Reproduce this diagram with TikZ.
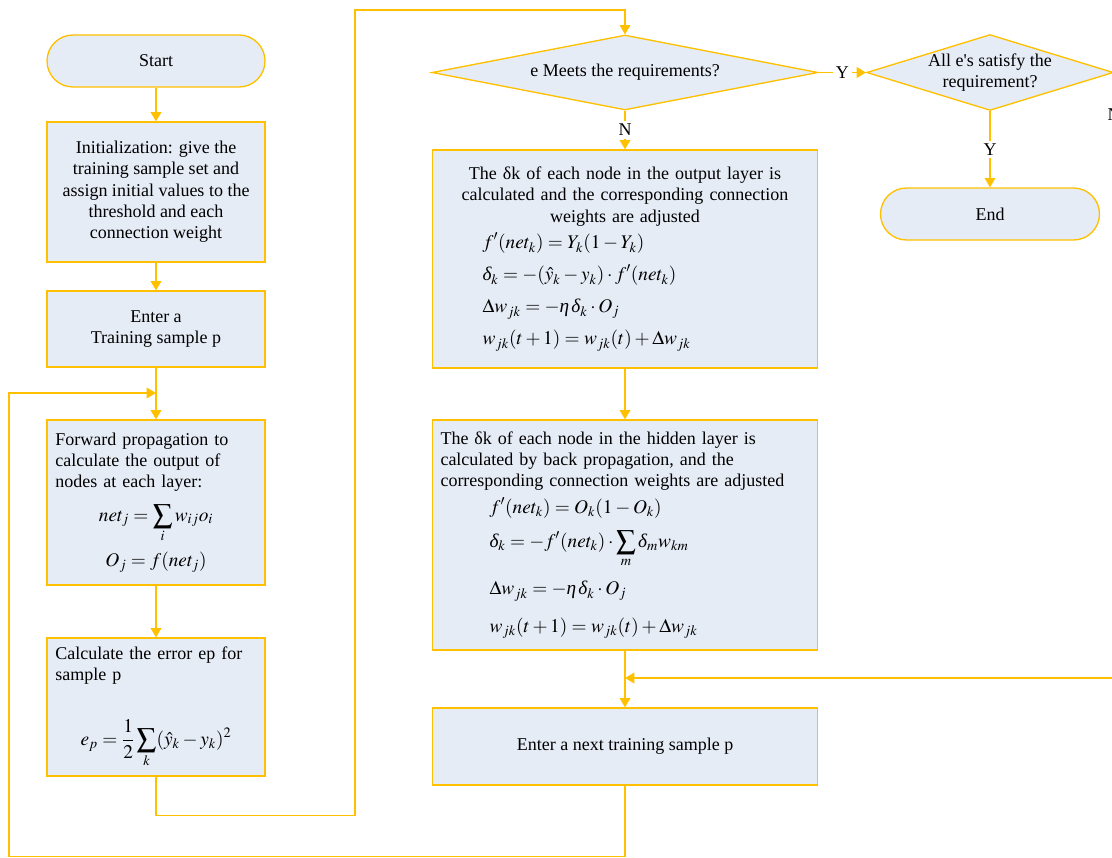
\documentclass[tikz,border=0pt]{standalone}
\usepackage{amsmath}
\usepackage{mathptmx}
\usepackage{fontspec}
\setmainfont{Liberation Serif}
\usepackage{xcolor}
\usepackage{tikz}
\usetikzlibrary{arrows.meta}
\usetikzlibrary{shapes}

\definecolor{gold}{HTML}{FFC000}
\definecolor{paleblue}{HTML}{E6ECF6}
% formulas are set a little larger than the text
\newcommand{\fml}[1]{{\fontsize{14.5}{16}\selectfont$\displaystyle #1$}}
\newcommand{\dlt}{\textit{δ}}
\newcommand{\etaa}{\textit{η}}

\begin{document}
\begin{tikzpicture}[x=0.75pt,y=-0.75pt,
	font=\fontsize{13.5}{16}\selectfont,
	box/.style={rectangle,draw=gold,fill=paleblue,line width=1pt,inner sep=0pt,minimum width=163.5pt},
	widebox/.style={box,minimum width=288.75pt},
	term/.style={box,rounded corners=19.5pt,minimum height=39pt},
	decision/.style={diamond,draw=gold,fill=paleblue,line width=1pt,inner sep=0pt,minimum height=56.25pt},
	flow/.style={draw=gold,line width=1.2pt}]
	\useasboundingbox (0,0) rectangle (1112,857);
	
	% left column
	\node[term] (start) at (156,61) {Start};
	\node[box,minimum height=105pt,align=center] (init) at (156,192) {Initialization: give the\\training sample set and\\assign initial values to the\\threshold and each\\connection weight};
	\node[box,minimum height=123.75pt,text width=151pt,align=left] (fwd) at (156,502.5) {Forward propagation to\\calculate the output of\\nodes at each layer:\\[9pt]
		\makebox[151pt]{\fml{net_j=\sum_i w_{ij}o_i}}\\[6pt]
		\makebox[151pt]{\fml{O_j=f(net_j)}}};
	\node[box,minimum height=57pt,align=center] (enter) at (156,329) {Enter a\\Training sample p};
	\node[box,minimum height=103.5pt,text width=151pt,align=left] (err) at (156,707) {Calculate the error ep for\\sample p\\[25pt]
		\makebox[151pt]{\fml{e_p=\frac{1}{2}\sum_k(\hat{y}_k-y_k)^2}}};
	
	% middle column
	\node[decision,aspect=5.15,minimum width=289.5pt] (d1) at (625,72.5) {e Meets the requirements?};
	\node[widebox,minimum height=163.5pt,text width=276.75pt,align=center] (out) at (625,259) {The δk of each node in the output layer is\\calculated and the corresponding connection\\weights are adjusted\\[4pt]
		\makebox[276.75pt][l]{\hspace*{31.5pt}\fml{f'(net_k)=Y_k(1-Y_k)}}\\[8pt]
		\makebox[276.75pt][l]{\hspace*{31.5pt}\fml{\dlt_k=-(\hat{y}_k-y_k)\cdot f'(net_k)}}\\[8pt]
		\makebox[276.75pt][l]{\hspace*{31.5pt}\fml{\Delta w_{jk}=-\etaa\,\dlt_k\cdot O_j}}\\[8pt]
		\makebox[276.75pt][l]{\hspace*{31.5pt}\fml{w_{jk}(t+1)=w_{jk}(t)+\Delta w_{jk}}}};
	\node[widebox,minimum height=172.5pt,text width=276.75pt,align=left] (hid) at (625,535) {The δk of each node in the hidden layer is\\calculated by back propagation, and the\\corresponding connection weights are adjusted\\[4pt]
		\hspace*{36.75pt}\fml{f'(net_k)=O_k(1-O_k)}\\[8pt]
		\hspace*{36.75pt}\fml{\dlt_k=-f'(net_k)\cdot\sum_m\dlt_m w_{km}}\\[9pt]
		\hspace*{36.75pt}\fml{\Delta w_{jk}=-\etaa\,\dlt_k\cdot O_j}\\[12pt]
		\hspace*{36.75pt}\fml{w_{jk}(t+1)=w_{jk}(t)+\Delta w_{jk}}};
	\node[widebox,minimum height=57.75pt] (next) at (625,746.5) {Enter a next training sample p};
	
	% right column
	\node[decision,aspect=3.25,minimum width=183pt,align=center] (all) at (990,72.5) {All e\textquotesingle s satisfy the\\requirement?};
	\node[term,minimum width=164.25pt] (end) at (990,214) {End};
	
	\coordinate (merge) at (156,393);
	\coordinate (join) at (625,678);
	
	\begin{scope}[>={Triangle[width=8pt,length=7pt]},
		every node/.style={fill=white,inner sep=2pt},
		every edge/.style={flow}]
		\path [->] (start) edge (init);
		\path [->] (init) edge (enter);
		\path [->] (enter) edge (fwd);
		\path [->] (fwd) edge (err);
		\path [->] (d1) edge node {Y} (all);
		\path [->] (d1) edge node {N} (out);
		\path [->] (out) edge (hid);
		\path [->] (hid) edge (next);
		\path [->] (all) edge node {Y} (end);
		
		\draw [flow,->] (err.south) -- ++(0,39) -| (355,10) -| (d1.north);
		\draw [flow,->] (next.south) -- ++(0,71) -| (9,393) -- (merge);
		\draw [flow,->] (all.east) |- node[pos=0.035] {N} (join);
	\end{scope}
\end{tikzpicture}
\end{document}
